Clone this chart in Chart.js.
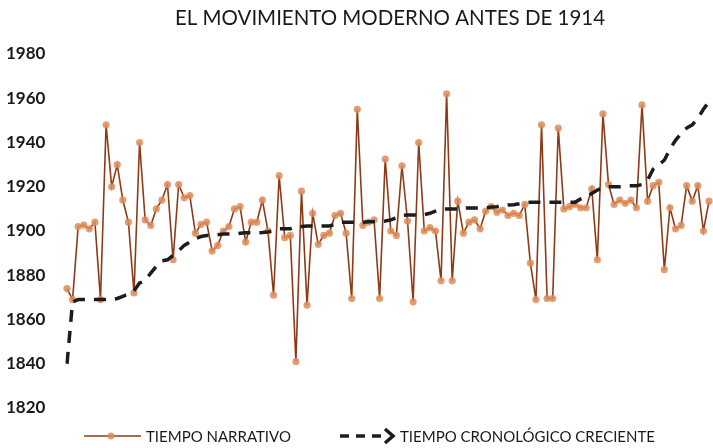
<!DOCTYPE html>
<html>
<head>
<meta charset="utf-8">
<script src="https://cdn.jsdelivr.net/npm/chart.js@4.4.1/dist/chart.umd.min.js"></script>
<style>
  html, body { margin: 0; padding: 0; background: #fff; }
  #wrap { width: 713px; height: 448px; position: relative; }
</style>
</head>
<body>
<div id="wrap"><canvas id="chart"></canvas></div>
<script>
// ── Data ─────────────────────────────────────────────────────
const TITLE = "EL MOVIMIENTO MODERNO ANTES DE 1914";
const SERIES_NAMES = ["TIEMPO NARRATIVO", "TIEMPO CRONOLÓGICO CRECIENTE"];
const Y_TICKS = [1820, 1840, 1860, 1880, 1900, 1920, 1940, 1960, 1980];

// año de cada obra en el orden narrativo del texto
const narrativo = [
  1874, 1869, 1902, 1902.7, 1901, 1904, 1869, 1948, 1920, 1930,
  1914, 1904, 1872, 1940, 1905, 1902.5, 1910, 1914, 1921, 1887,
  1921, 1915, 1916, 1899, 1903, 1904, 1891, 1893.5, 1900, 1902,
  1910, 1911, 1895, 1904, 1904, 1914, 1900, 1871, 1925, 1897,
  1898, 1841, 1918, 1866.5, 1908, 1894, 1898, 1899, 1907, 1908,
  1899, 1869.5, 1955, 1902.5, 1904, 1905, 1869.5, 1932.5, 1900, 1898,
  1929.5, 1904.5, 1868, 1940, 1900, 1901.5, 1900, 1877.5, 1962, 1877.5,
  1913.5, 1899, 1904, 1905, 1901, 1909, 1911, 1908.5, 1909.5, 1907,
  1908, 1907, 1912, 1885.5, 1869, 1948, 1869.5, 1869.5, 1946.5, 1910,
  1911, 1912, 1910.5, 1910.5, 1919, 1887, 1953, 1921, 1912, 1914,
  1912.5, 1914, 1910.5, 1957, 1913.5, 1920.5, 1922, 1882.5, 1910.5, 1901,
  1902.5, 1920.5, 1913.5, 1920.5, 1900, 1913.5
];

// los mismos años ordenados de forma creciente
const cronologico = [
  1840, 1868, 1869, 1869, 1869, 1869, 1869, 1869, 1869, 1869.5,
  1870.5, 1871.5, 1873, 1876.5, 1877.5, 1881, 1884, 1886.5, 1887, 1889,
  1891, 1893.5, 1895, 1896.5, 1897.5, 1898, 1898, 1898.3, 1898.6, 1898.6,
  1898.6, 1899, 1899.2, 1899.2, 1899.2, 1899.3, 1899.5, 1900.3, 1901, 1901,
  1901, 1901.8, 1902, 1902.3, 1902.3, 1902.3, 1902.3, 1902.3, 1903, 1904,
  1904, 1904, 1904, 1904, 1904.2, 1904.2, 1904.2, 1904.5, 1905, 1906,
  1907, 1907.2, 1907.2, 1907.2, 1907.4, 1908, 1909, 1910, 1910, 1910,
  1910, 1910.3, 1910.4, 1910.4, 1910.4, 1910.5, 1910.8, 1911, 1911.5, 1911.8,
  1911.9, 1912.3, 1912.8, 1913, 1913, 1913, 1913, 1913, 1913, 1913,
  1913, 1913, 1914.5, 1915.5, 1917, 1918.5, 1919.5, 1920, 1920, 1920,
  1920.2, 1920.4, 1920.5, 1921, 1923, 1928, 1930, 1932, 1937, 1941,
  1944, 1946.5, 1948, 1951, 1955, 1958.5
];

const labels = narrativo.map((_, i) => String(i + 1));

// ── Palette ──────────────────────────────────────────────────
const COLORS = {
  line:   "#8c3b18",
  marker: "rgba(222,140,88,0.85)",
  dash:   "#1c1c1c",
  text:   "#1a1a1a",
};
const FONT = "Lato, 'Open Sans', sans-serif";

// ── Title + legend drawn on the canvas ───────────────────────
const decorPlugin = {
  id: "decor",
  afterDraw(chart) {
    const ctx = chart.ctx;
    ctx.save();
    ctx.fillStyle = COLORS.text;
    ctx.textBaseline = "middle";

    // title
    ctx.font = "21px " + FONT;
    ctx.textAlign = "center";
    ctx.fillText(TITLE, 390, 18, 430);

    // legend: narrative series
    const ly = 436;
    ctx.strokeStyle = COLORS.line;
    ctx.lineWidth = 1.6;
    ctx.beginPath();
    ctx.moveTo(84, ly); ctx.lineTo(141, ly);
    ctx.stroke();
    ctx.fillStyle = COLORS.marker;
    ctx.beginPath();
    ctx.arc(111, ly, 3.5, 0, Math.PI * 2);
    ctx.fill();

    // legend: chronological series (dashes + arrow head)
    ctx.strokeStyle = COLORS.dash;
    ctx.lineWidth = 3.5;
    ctx.setLineDash([9, 7]);
    ctx.beginPath();
    ctx.moveTo(340, ly); ctx.lineTo(384, ly);
    ctx.stroke();
    ctx.setLineDash([]);
    ctx.beginPath();
    ctx.moveTo(385, ly - 7); ctx.lineTo(393, ly); ctx.lineTo(385, ly + 7);
    ctx.stroke();

    ctx.fillStyle = COLORS.text;
    ctx.font = "15px " + FONT;
    ctx.textAlign = "left";
    ctx.fillText(SERIES_NAMES[0], 146, ly + 1, 150);
    ctx.fillText(SERIES_NAMES[1], 400, ly + 1, 260);
    ctx.restore();
  }
};

// ── Chart ────────────────────────────────────────────────────
new Chart(document.getElementById("chart"), {
  type: "line",
  data: {
    labels,
    datasets: [
      {
        label: SERIES_NAMES[0],
        data: narrativo,
        borderColor: COLORS.line,
        borderWidth: 1.6,
        pointRadius: 3.6,
        pointBackgroundColor: COLORS.marker,
        pointBorderColor: COLORS.marker,
        pointBorderWidth: 0,
        tension: 0,
        order: 1,
      },
      {
        label: SERIES_NAMES[1],
        data: cronologico,
        borderColor: COLORS.dash,
        borderWidth: 3.5,
        borderDash: [12, 9],
        pointRadius: 0,
        tension: 0,
        order: 0,
      }
    ]
  },
  options: {
    responsive: true,
    maintainAspectRatio: false,
    animation: false,
    layout: { padding: { left: 6, right: 0, top: 54, bottom: 40 } },
    plugins: {
      legend: { display: false },
      title: { display: false },
      tooltip: { enabled: false }
    },
    scales: {
      x: { display: false, offset: false },
      y: {
        min: Y_TICKS[0],
        max: Y_TICKS[Y_TICKS.length - 1],
        afterBuildTicks: s => { s.ticks = Y_TICKS.map(v => ({ value: v })); },
        afterFit: s => { s.width = 61; },
        grid: { display: false },
        border: { display: false },
        ticks: {
          color: COLORS.text,
          crossAlign: "far",
          padding: 0,
          callback: v => String(v),
          font: { family: FONT, size: 17, weight: "bold" }
        }
      }
    }
  },
  plugins: [decorPlugin]
});
</script>
</body>
</html>
